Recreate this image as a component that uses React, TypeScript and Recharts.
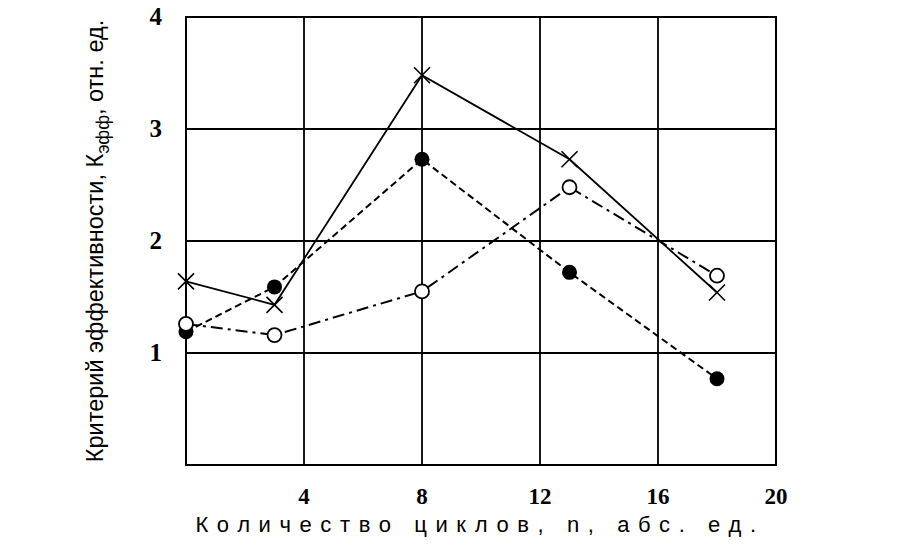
import { CartesianGrid, Label, Line, LineChart, ReferenceArea, XAxis, YAxis } from 'recharts'

const cycles = [0, 3, 8, 13, 18]
const crossValues = [1.64, 1.43, 3.48, 2.73, 1.54]
const openValues = [1.26, 1.16, 1.55, 2.48, 1.69]
const filledValues = [1.19, 1.59, 2.73, 1.72, 0.77]
const xTicks = [0, 4, 8, 12, 16, 20]
const yTicks = [0, 1, 2, 3, 4]

const data = cycles.map((n, i) => ({
  n,
  cross: crossValues[i],
  open: openValues[i],
  filled: filledValues[i],
}))

const CrossDot = (props: any) => {
  const { cx, cy } = props
  if (cx == null || cy == null) return null
  const s = 8
  return (
    <g>
      <line x1={cx - s} y1={cy - s} x2={cx + s} y2={cy + s} stroke="#000" strokeWidth={1.6} />
      <line x1={cx - s} y1={cy + s} x2={cx + s} y2={cy - s} stroke="#000" strokeWidth={1.6} />
    </g>
  )
}

const XTick = (props: any) => {
  const { x, y, payload } = props
  if (payload.value === 0) return null
  return (
    <text x={x} y={y + 37} textAnchor="middle" fontFamily="Liberation Serif" fontWeight="bold" fontSize={23} fill="#000">
      {payload.value}
    </text>
  )
}

const YTick = (props: any) => {
  const { x, y, payload } = props
  if (payload.value === 0) return null
  return (
    <text x={x - 22} y={y + 8} textAnchor="end" fontFamily="Liberation Serif" fontWeight="bold" fontSize={25} fill="#000">
      {payload.value}
    </text>
  )
}

const YTitle = () => (
  <text
    x={103}
    y={241}
    transform="rotate(-90, 103, 241)"
    textAnchor="middle"
    fontFamily="Liberation Sans"
    fontSize={23.5}
    fill="#000"
  >
    Критерий эффективности, К
    <tspan dy={6} fontSize={18}>эфф</tspan>
    <tspan dy={-6}>, отн. ед.</tspan>
  </text>
)

const XTitle = () => (
  <text x={480} y={532} textAnchor="middle" fontFamily="Liberation Sans" fontSize={22} letterSpacing={8.6} fill="#000">
    Количество циклов, n, абс. ед.
  </text>
)

export default function App() {
  return (
    <div style={{ position: 'absolute', left: 0, top: 0, background: '#fff' }}>
      <LineChart width={916} height={546} data={data} margin={{ top: 17, right: 140, bottom: 0, left: 0 }}>
        <CartesianGrid stroke="#000" strokeWidth={1.8} horizontalValues={yTicks} verticalValues={xTicks} />
        <XAxis
          dataKey="n"
          type="number"
          domain={[0, 20]}
          ticks={xTicks}
          height={81}
          tickSize={0}
          tickLine={false}
          axisLine={{ stroke: '#000', strokeWidth: 2 }}
          tick={<XTick />}
        >
          <Label content={<XTitle />} />
        </XAxis>
        <YAxis
          type="number"
          domain={[0, 4]}
          ticks={yTicks}
          width={186}
          tickSize={0}
          tickLine={false}
          axisLine={{ stroke: '#000', strokeWidth: 2 }}
          tick={<YTick />}
        >
          <Label content={<YTitle />} />
        </YAxis>
        <ReferenceArea x1={0} x2={20} y1={0} y2={4} fill="none" stroke="#000" strokeWidth={2} />
        <Line
          dataKey="filled"
          stroke="#000"
          strokeWidth={2}
          strokeDasharray="7 4"
          dot={{ r: 7.5, fill: '#000', stroke: '#000', strokeWidth: 0, strokeDasharray: '' }}
          isAnimationActive={false}
        />
        <Line
          dataKey="open"
          stroke="#000"
          strokeWidth={2}
          strokeDasharray="12 5 3 5"
          dot={{ r: 7, fill: '#fff', stroke: '#000', strokeWidth: 1.8, strokeDasharray: '' }}
          isAnimationActive={false}
        />
        <Line
          dataKey="cross"
          stroke="#000"
          strokeWidth={1.8}
          dot={<CrossDot />}
          isAnimationActive={false}
        />
      </LineChart>
    </div>
  )
}
